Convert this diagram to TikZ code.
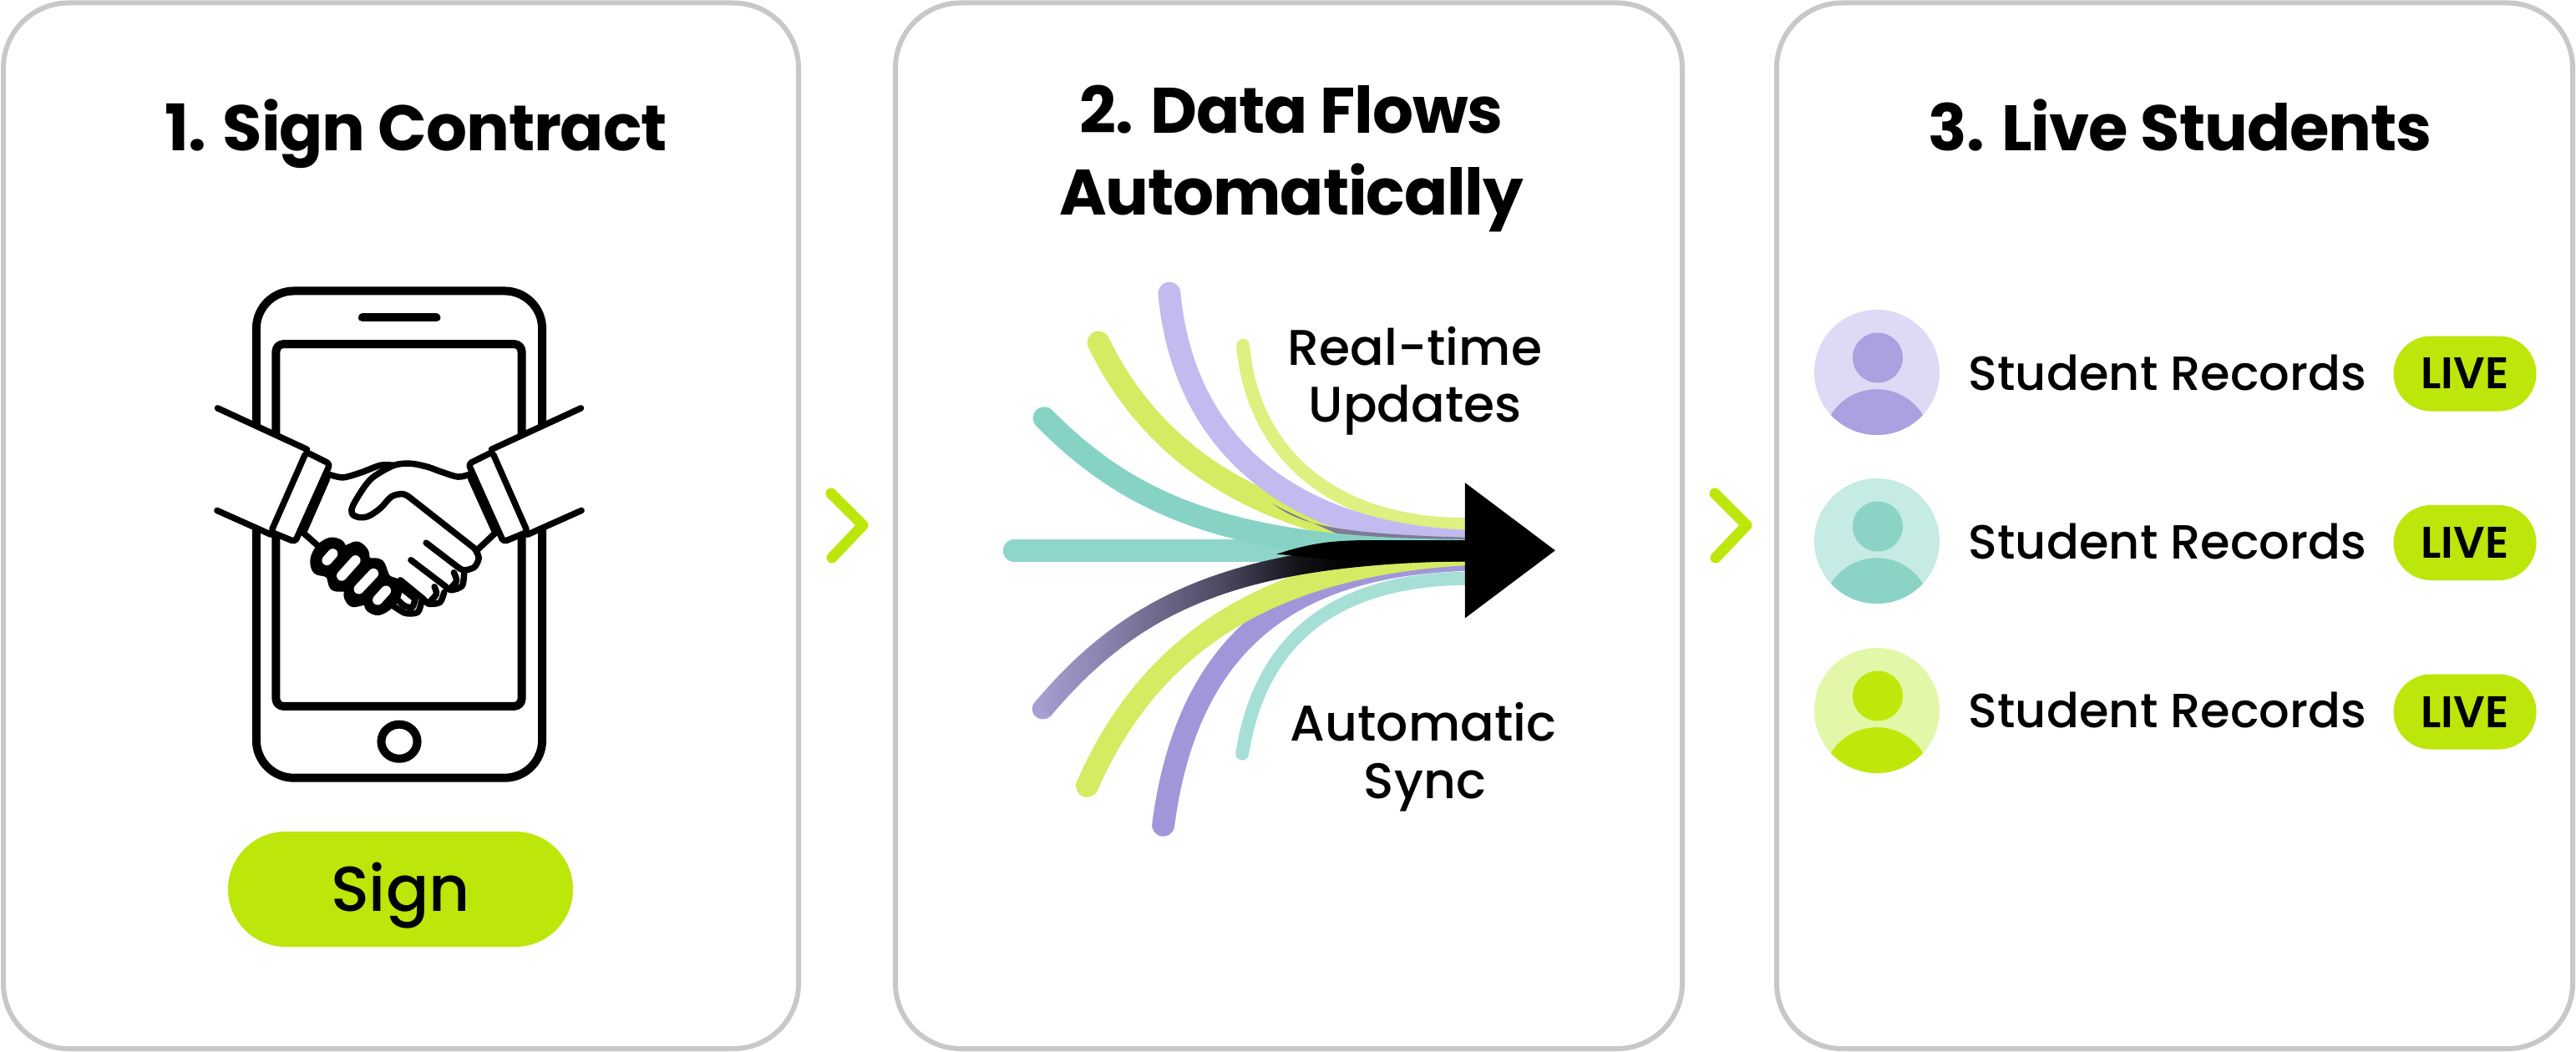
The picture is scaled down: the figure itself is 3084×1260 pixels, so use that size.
\documentclass[tikz,border=0pt]{standalone}
\usepackage{fontspec}
\setmainfont{Poppins}
\newfontfamily\semifont{Poppins SemiBold}
\newfontfamily\medfont{Poppins Medium}
\newfontfamily\titlefont[LetterSpace=-1.5]{Poppins Bold}
\definecolor{panelgray}{HTML}{C8C8C8}
\definecolor{limeC}{HTML}{BDE60A}
\definecolor{flowteal}{HTML}{86D3C6}
\definecolor{flowtealthin}{HTML}{A6DFD6}
\definecolor{flowlime}{HTML}{D5EB62}
\definecolor{flowlimethin}{HTML}{DDF080}
\definecolor{flowlav}{HTML}{C2BBF0}
\definecolor{flowpurple}{HTML}{A097DA}
\definecolor{flowdarkstart}{HTML}{A89FD4}
\definecolor{purpleA}{HTML}{DEDAF5}
\definecolor{purpleB}{HTML}{A9A1E0}
\definecolor{tealA}{HTML}{C6EAE4}
\definecolor{tealB}{HTML}{8BD3C7}
\definecolor{limeA}{HTML}{E2F7A8}
\definecolor{limeB}{HTML}{BFE80A}
\pgfdeclarehorizontalshading{darkflow}{100bp}{
 color(0bp)=(flowdarkstart); color(25bp)=(flowdarkstart);
 color(34bp)=(flowdarkstart!80!black); color(47bp)=(flowdarkstart!45!black);
 color(56bp)=(flowdarkstart!10!black); color(62bp)=(black); color(100bp)=(black)}
\tikzset{
 panel/.style={draw=panelgray,line width=6pt,fill=white,rounded corners=78pt},
 title/.style={font=\titlefont\fontsize{77}{77}\selectfont,anchor=base,text=black,inner sep=0pt,outer sep=0pt},
 flowlabel/.style={font=\medfont\fontsize{60}{60}\selectfont,anchor=base,text=black,inner sep=0pt},
 rowlabel/.style={font=\medfont\fontsize{57.5}{57.5}\selectfont,anchor=base,text=black,inner sep=0pt},
 livepill/.style={fill=limeC,rounded corners=45pt,minimum width=171pt,minimum height=90pt,inner sep=0pt},
 livetext/.style={font=\semifont\fontsize{53}{53}\selectfont,anchor=base,text=black,inner sep=0pt},
 chev/.style={draw=limeC,line width=13pt,line cap=round,line join=round},
 phoneline/.style={draw=black,line width=10pt,line cap=round,line join=round},
 handline/.style={draw=black,line width=7.5pt,line cap=round,line join=round},
 fingerhole/.style={draw=white,line width=12pt,line cap=round},
 flowwide/.style={line width=27pt,line cap=round},
 flowthin/.style={line width=16pt,line cap=round},
}
\newcommand{\avatar}[4]{% y, outer, inner, name
 \node[circle,fill=#2,minimum size=150pt,inner sep=0pt] (#4) at (2247,#1) {};
 \begin{scope}
  \clip (2247,#1) circle[radius=75pt];
  \fill[#3] (2247,#1+85) circle[radius=64.8pt];
 \end{scope}
 \fill[#3] (2248,#1-17.5) circle[radius=30pt];
}
\newcommand{\armhalf}{%
 \fill[white] (122,427) -- (450,553) -- (527,592) -- (435,800) -- (400,835) -- (315,812) -- (120,737) -- cycle;
 \draw[handline] (122,427) -- (445,552);
 \draw[handline] (120,737) -- (315,810);
 \draw[handline,rounded corners=4pt] (442,560) -- (528,596) -- (402,832) -- (315,802) -- cycle;
}
\begin{document}
\begin{tikzpicture}[x=1pt,y=-1pt]
\useasboundingbox (0,0) rectangle (3084,1260);
\fill[white] (0,0) rectangle (3084,1260);
% panels
\draw[panel] (4,3.5) rectangle (956,1256);
\draw[panel] (1072,3.5) rectangle (2014,1256);
\draw[panel] (2127,3.5) rectangle (3080,1256);
% titles
\node[title] (t1) at (498,181) {1. Sign Contract};
\node[title] (t2a) at (1546,160) {2. Data Flows};
\node[title] (t2b) at (1546,258) {Automatically};
\node[title] (t3) at (2610,181) {3. Live Students};
% chevrons
\draw[chev] (995,591) -- (1033,629) -- (996,668);
\draw[chev] (2053,591) -- (2091,629) -- (2054,668);
% phone and handshake
\begin{scope}[shift={(220,320)},x=0.3316pt,y=-0.3954pt]
 \draw[phoneline,rounded corners=45pt] (262,72) rectangle (1294,1547);
 \draw[phoneline,rounded corners=9pt] (333,233) rectangle (1220,1330);
 \draw[phoneline] (645,153) -- (912,153);
 \draw[phoneline] (778,1437) circle[x radius=65,y radius=52];
 \armhalf
 \begin{scope}[shift={(1556,0)},xscale=-1]
  \armhalf
 \end{scope}
 % left wrist
 \draw[handline] plot[smooth] coordinates {(525,628) (575,637) (640,622) (710,600) (755,600)};
 \draw[handline] (518,640) -- (432,805) -- (490,848);
 % right wrist and thumb
 \draw[handline] plot[smooth,tension=0.55] coordinates {(1030,628) (990,635) (930,620) (880,605) (820,595) (760,600) (690,632) (655,662) (612,720) (607,745) (628,757) (665,755) (710,730) (750,695) (790,687) (815,697)};
 \draw[handline] (815,697) -- (1050,852);
 \draw[handline] plot[smooth] coordinates {(1050,852) (1065,880) (1050,908) (1015,918) (995,912)};
 \draw[handline] (995,912) -- (875,835);
 \draw[handline] (1036,640) -- (1125,805) -- (1058,858);
 % right fingers
 \draw[handline] plot[smooth] coordinates {(1012,925) (1005,965) (965,978) (942,965)};
 \draw[handline] (942,965) -- (820,887);
 \draw[handline] plot[smooth] coordinates {(965,970) (985,950) (975,925)};
 \draw[handline] plot[smooth] coordinates {(940,985) (925,1015) (885,1020) (865,1005)};
 \draw[handline] (865,1005) -- (782,948);
 \draw[handline] plot[smooth] coordinates {(890,1012) (912,990) (905,968)};
 \draw[handline] plot[smooth] coordinates {(835,1005) (825,1030) (795,1025) (770,1005)};
 \draw[handline] (775,965) -- (835,1005);
 \draw[handline] plot[smooth] coordinates {(858,1012) (845,1045) (800,1048) (755,1025)};
 % left fist: filled silhouette with four finger openings
 \filldraw[handline,fill=black] plot[smooth cycle,tension=0.6] coordinates {(490,848) (530,828) (565,835) (582,852) (625,840) (655,860) (665,888) (710,895) (735,940) (770,955) (775,990) (750,1022) (705,1045) (670,1035) (655,1015) (610,1020) (590,1000) (585,975) (540,970) (522,932) (478,920) (468,885)};
 \draw[fingerhole] (517,888) -- (538,868);
 \draw[fingerhole] (570,935) -- (620,888);
 \draw[fingerhole] (632,975) -- (685,928);
 \draw[fingerhole] (700,1008) -- (730,980);
\end{scope}
% sign button
\node[fill=limeC,rounded corners=69pt,minimum width=413pt,minimum height=138pt,inner sep=0pt] (signbtn) at (479.5,1065) {};
\node[font=\medfont\fontsize{76}{76}\selectfont,anchor=base,inner sep=0pt] (signtext) at (479.5,1091) {Sign};
% data streams
\begin{scope}[shift={(1160,320)},x=0.4847pt,y=-0.4464pt]
 \draw[flowthin,flowlimethin] (677,210) .. controls (700,500) and (900,690) .. (1225,690);
 \draw[flowwide,flowlime] (320,202) .. controls (480,560) and (800,720) .. (1225,745);
 \draw[flowwide,flowlav] (495,70) .. controls (530,480) and (800,715) .. (1225,735);
 \fill[black!35!flowlav!70!gray] (750,635) .. controls (820,690) and (900,715) .. (1225,725) -- (1225,735) -- (950,735) .. controls (880,700) and (810,670) .. cycle;
 \draw[flowthin,flowtealthin] (675,1305) .. controls (720,1000) and (900,840) .. (1225,835);
 \draw[flowwide,flowpurple] (480,1497) .. controls (540,1000) and (800,800) .. (1225,785);
 \draw[flowwide,flowlime] (292,1392) .. controls (450,1000) and (750,800) .. (1225,770);
 \draw[flowwide,flowteal] (186,405) .. controls (400,640) and (650,760) .. (1225,760);
 \draw[flowwide,flowteal,opacity=.92] (112,761) -- (1225,761);
 \fill[flowdarkstart] (183,1185) circle[x radius=27,y radius=28];
 \shade[shading=darkflow] (163,1167) .. controls (385,880) and (650,741) .. (1225,733)
   -- (1225,789) .. controls (660,798) and (420,925) .. (203,1203) -- cycle;
 \fill[black] (760,770) .. controls (830,745) and (880,735) .. (960,733) -- (1225,733) -- (1225,790) -- (950,788) .. controls (880,785) and (820,775) .. cycle;
 \fill[black] (1225,578) -- (1448,760) -- (1225,942) -- cycle;
\end{scope}
\node[flowlabel] (rt1) at (1694,437) {Real-time};
\node[flowlabel] (rt2) at (1694,505) {Updates};
\node[flowlabel] (as1) at (1704,887) {Automatic};
\node[flowlabel] (as2) at (1706,956) {Sync};
% rows
\avatar{446}{purpleA}{purpleB}{av1}
\avatar{648}{tealA}{tealB}{av2}
\avatar{851}{limeA}{limeB}{av3}
\node[rowlabel] (r1) at (2595,467) {Student Records};
\node[rowlabel] (r2) at (2595,669) {Student Records};
\node[rowlabel] (r3) at (2595,871.5) {Student Records};
\node[livepill] (p1) at (2951,447.5) {};
\node[livepill] (p2) at (2951,650) {};
\node[livepill] (p3) at (2951,852.5) {};
\node[livetext] (l1) at (2951,465.7) {LIVE};
\node[livetext] (l2) at (2951,668) {LIVE};
\node[livetext] (l3) at (2951,871) {LIVE};
\end{tikzpicture}
\end{document}
